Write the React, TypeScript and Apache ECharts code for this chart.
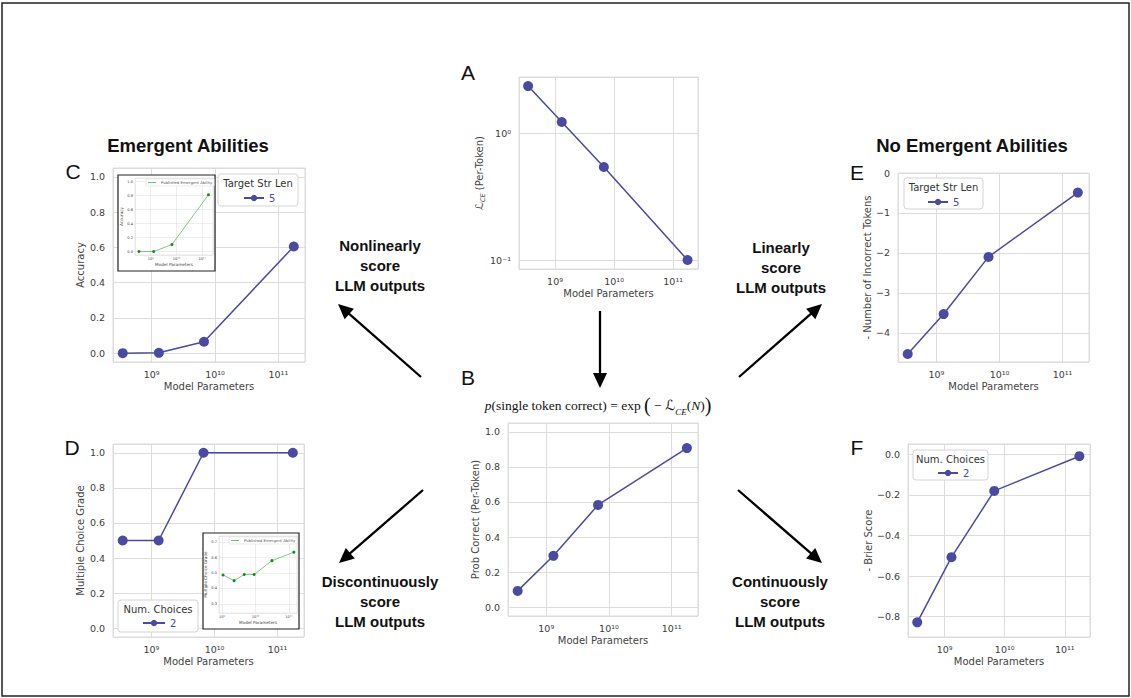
import React, { useEffect, useRef } from 'react';
import * as echarts from 'echarts';

// ---------------- data ----------------
const modelParams = [3.5e8, 1.3e9, 6.7e9, 1.75e11];
const lossPerToken = [2.34, 1.22, 0.54, 0.1];
const probCorrect = [0.093, 0.293, 0.583, 0.907];
const accuracy = [0.0, 0.002, 0.065, 0.605];
const negIncorrectTokens = [-4.53, -3.53, -2.1, -0.49];
const multipleChoiceGrade = [0.5, 0.5, 1.0, 1.0];
const negBrierScore = [-0.828, -0.507, -0.181, -0.01];
const insetAccParams = [3.5e8, 1.3e9, 6.7e9, 1.75e11];
const insetAccuracy = [0.0, 0.0, 0.1, 0.81];
const insetMcParams = [1.07e9, 2.3e9, 4.6e9, 9.1e9, 3.1e10, 1.4e11];
const insetMcGrade = [0.487, 0.45, 0.49, 0.49, 0.58, 0.635];
const targetStrLen = '5';
const numChoices = '2';
const insetSeriesName = 'Published Emergent Ability';

// ---------------- style ----------------
const FONT = "'DejaVu Sans', sans-serif";
const BOLD = "'Liberation Sans', Arial, sans-serif";
const BLUE = '#4a4aa2';
const GRID_C = '#dddddd';
const TICK_C = '#3c3c3c';
const NAME_C = '#444444';
const GREEN_LINE = '#72c472';
const GREEN_DOT = '#138a13';

const SUPS: Record<string, string> = {
  '0': '⁰', '1': '¹', '2': '²', '3': '³', '4': '⁴', '5': '⁵', '6': '⁶', '7': '⁷', '8': '⁸', '9': '⁹', '-': '⁻',
};
function powLabel(v: number): string {
  const e = Math.log10(v);
  const r = Math.round(e);
  if (Math.abs(e - r) > 1e-6) return '';
  return '10' + String(r).split('').map((c) => SUPS[c]).join('');
}
function linLabel(step: number, digits: number) {
  return (v: number) => {
    const k = v / step;
    if (Math.abs(k - Math.round(k)) > 1e-6) return '';
    return (v < -1e-9 ? '−' : '') + Math.abs(v).toFixed(digits);
  };
}
const pairs = (xs: number[], ys: number[]) => xs.map((x, i) => [x, ys[i]]);

interface Spec {
  grid: [number, number, number, number];
  xr: [number, number];
  yr: [number, number];
  yLog?: boolean;
  yFmt: (v: number) => string;
  xName: string;
  yName: string;
  yGap: number;
  small?: boolean;
}

const specs: Spec[] = [
  { grid: [519, 77, 179, 192], xr: [8.39, 11.42], yr: [0.085, 2.76], yLog: true, yFmt: powLabel, xName: 'Model Parameters', yName: '{l|ℒ}{s|CE} (Per-Token)', yGap: 33 },
  { grid: [508, 423, 190, 193], xr: [8.39, 11.42], yr: [-0.05, 1.05], yFmt: linLabel(0.2, 1), xName: 'Model Parameters', yName: 'Prob Correct (Per-Token)', yGap: 25 },
  { grid: [113, 168, 192, 194], xr: [8.39, 11.42], yr: [-0.05, 1.05], yFmt: linLabel(0.2, 1), xName: 'Model Parameters', yName: 'Accuracy', yGap: 25 },
  { grid: [113, 444, 191, 193], xr: [8.39, 11.42], yr: [-0.05, 1.05], yFmt: linLabel(0.2, 1), xName: 'Model Parameters', yName: 'Multiple Choice Grade', yGap: 25 },
  { grid: [898, 173, 191, 189], xr: [8.39, 11.42], yr: [-4.73, 0], yFmt: linLabel(1, 0), xName: 'Model Parameters', yName: '- Number of Incorrect Tokens', yGap: 23 },
  { grid: [908, 444, 182, 193], xr: [8.39, 11.42], yr: [-0.9, 0.05], yFmt: linLabel(0.2, 1), xName: 'Model Parameters', yName: '- Brier Score', yGap: 34 },
  { grid: [135, 178, 78, 77], xr: [8.39, 11.42], yr: [-0.05, 1.05], yFmt: linLabel(0.2, 1), xName: 'Model Parameters', yName: 'Accuracy', yGap: 8, small: true },
  { grid: [219, 536, 78, 77], xr: [8.91, 11.24], yr: [0.24, 0.74], yFmt: linLabel(0.1, 1), xName: 'Model Parameters', yName: 'Multiple Choice Grade', yGap: 8, small: true },
];

function arrow(x1: number, y1: number, x2: number, y2: number) {
  const dx = x2 - x1, dy = y2 - y1;
  const L = Math.hypot(dx, dy);
  const ux = dx / L, uy = dy / L;
  const hl = 15, hw = 7;
  const bx = x2 - ux * hl, by = y2 - uy * hl;
  return {
    type: 'group',
    z: 20,
    children: [
      { type: 'line', z: 20, shape: { x1, y1, x2: bx + ux * 2, y2: by + uy * 2 }, style: { stroke: '#000', lineWidth: 2.3 } },
      { type: 'polygon', z: 20, shape: { points: [[x2, y2], [bx - uy * hw, by + ux * hw], [bx + uy * hw, by - ux * hw]] }, style: { fill: '#000' } },
    ],
  };
}

function txt(x: number, y: number, text: string, size: number, weight: string, family: string, extra: any = {}) {
  return {
    type: 'text', x, y, z: 20,
    style: { text, fontSize: size, fontWeight: weight, fontFamily: family, fill: '#111', textAlign: 'center', textVerticalAlign: 'middle', ...extra },
  };
}

function legendBox(x: number, y: number, w: number, h: number, title: string) {
  return [
    { type: 'rect', z: 5, shape: { x, y, width: w, height: h, r: 3 }, style: { fill: 'rgba(255,255,255,0.9)', stroke: '#d4d4d4', lineWidth: 1 } },
    { type: 'text', x: x + w / 2, y: y + 9, z: 9, style: { text: title, fontSize: 10, fontFamily: FONT, fill: '#333', textAlign: 'center', textVerticalAlign: 'middle' } },
  ];
}

function buildOption() {
  const grid: any[] = [];
  const xAxis: any[] = [];
  const yAxis: any[] = [];
  specs.forEach((s, i) => {
    const sm = !!s.small;
    const z = sm ? 6 : 0;
    grid.push({
      left: s.grid[0], top: s.grid[1], width: s.grid[2], height: s.grid[3],
      show: true, borderColor: GRID_C, borderWidth: sm ? 0.6 : 1,
      backgroundColor: sm ? '#fff' : 'transparent', containLabel: false, z,
    });
    const tickSize = sm ? 3.6 : 9.5;
    const nameSize = sm ? 4.2 : 10;
    xAxis.push({
      type: 'log', logBase: 10, gridIndex: i, z,
      min: Math.pow(10, s.xr[0]), max: Math.pow(10, s.xr[1]),
      axisLine: { show: false }, axisTick: { show: false },
      splitLine: { show: true, lineStyle: { color: GRID_C, width: sm ? 0.5 : 1 } },
      axisLabel: { interval: 0, formatter: powLabel, color: TICK_C, fontSize: tickSize, fontFamily: FONT, margin: sm ? 2 : 7 },
      name: s.xName, nameLocation: 'middle', nameGap: sm ? 7 : 19,
      nameTextStyle: { color: NAME_C, fontSize: nameSize, fontFamily: FONT },
    });
    yAxis.push({
      type: s.yLog ? 'log' : 'value', gridIndex: i, z,
      ...(s.yLog ? { logBase: 10 } : { splitNumber: 5 }),
      min: s.yr[0], max: s.yr[1],
      axisLine: { show: false }, axisTick: { show: false },
      splitLine: { show: true, lineStyle: { color: GRID_C, width: sm ? 0.5 : 1 } },
      axisLabel: { interval: 0, formatter: s.yFmt, color: TICK_C, fontSize: tickSize, fontFamily: FONT, margin: sm ? 2 : 8 },
      name: s.yName, nameLocation: 'middle', nameGap: s.yGap,
      nameTextStyle: {
        color: NAME_C, fontSize: nameSize, fontFamily: FONT,
        rich: {
          l: { fontSize: 11, fontFamily: "'DejaVu Sans', sans-serif", color: NAME_C },
          s: { fontSize: 6.5, fontFamily: FONT, fontStyle: 'italic', color: NAME_C, verticalAlign: 'bottom', lineHeight: 14 },
        },
      },
    });
  });

  const mainLine = (idx: number, name: string, data: number[][]) => ({
    type: 'line', name, xAxisIndex: idx, yAxisIndex: idx, data,
    symbol: 'circle', symbolSize: 10, showSymbol: true,
    lineStyle: { color: BLUE, width: 1.5 }, itemStyle: { color: BLUE }, z: 3,
  });
  const insetLine = (idx: number, data: number[][]) => ({
    type: 'line', name: insetSeriesName, xAxisIndex: idx, yAxisIndex: idx, data,
    symbol: 'circle', symbolSize: 3, showSymbol: true,
    lineStyle: { color: GREEN_LINE, width: 0.9 }, itemStyle: { color: GREEN_DOT }, z: 7,
  });

  const series = [
    mainLine(0, 'Loss', pairs(modelParams, lossPerToken)),
    mainLine(1, 'Prob', pairs(modelParams, probCorrect)),
    mainLine(2, targetStrLen, pairs(modelParams, accuracy)),
    mainLine(3, numChoices, pairs(modelParams, multipleChoiceGrade)),
    mainLine(4, targetStrLen, pairs(modelParams, negIncorrectTokens)),
    mainLine(5, numChoices, pairs(modelParams, negBrierScore)),
    insetLine(6, pairs(insetAccParams, insetAccuracy)),
    insetLine(7, pairs(insetMcParams, insetMcGrade)),
  ];

  const mainLegend = (name: string, left: number, top: number, w: number) => ({
    data: [name], left, top, itemWidth: w, itemHeight: 8, padding: 0, selectedMode: false, z: 9,
    textStyle: { color: BLUE, fontSize: 10, fontFamily: FONT, padding: [0, 0, 0, 0] }, itemGap: 5,
  });
  const insetLegend = (left: number, top: number) => ({
    data: [insetSeriesName], left, top, icon: 'rect', itemWidth: 8, itemHeight: 1, itemGap: 2,
    padding: [1.5, 2], selectedMode: false, z: 9, backgroundColor: '#fff', borderColor: '#d8d8d8', borderWidth: 0.5,
    itemStyle: { color: GREEN_LINE },
    textStyle: { color: '#555', fontSize: 3.8, fontFamily: FONT },
  });

  const legend = [
    mainLegend(targetStrLen, 243, 193, 20),
    mainLegend(targetStrLen, 927, 197, 20),
    mainLegend(numChoices, 142, 618, 22),
    mainLegend(numChoices, 937, 468, 20),
    insetLegend(146, 179),
    insetLegend(229, 537),
  ];

  const graphic: any[] = [
    { type: 'rect', z: 0, shape: { x: 2, y: 3, width: 1127, height: 693 }, style: { fill: 'none', stroke: '#222', lineWidth: 1.5 } },
    // inset frames
    { type: 'rect', z: 5, shape: { x: 118, y: 175, width: 97, height: 96 }, style: { fill: '#fff', stroke: '#222', lineWidth: 1.2 } },
    { type: 'rect', z: 5, shape: { x: 203, y: 533, width: 96, height: 96 }, style: { fill: '#fff', stroke: '#222', lineWidth: 1.2 } },
    ...legendBox(218, 174, 80, 32, 'Target Str Len'),
    ...legendBox(904, 178, 79, 31, 'Target Str Len'),
    ...legendBox(118, 600, 80, 32, 'Num. Choices'),
    ...legendBox(913, 450, 75, 30, 'Num. Choices'),
    // panel letters
    txt(468, 72, 'A', 21, 'normal', BOLD),
    txt(468, 377, 'B', 21, 'normal', BOLD),
    txt(73, 171, 'C', 21, 'normal', BOLD),
    txt(72, 447, 'D', 21, 'normal', BOLD),
    txt(857, 172, 'E', 21, 'normal', BOLD),
    txt(857, 447, 'F', 21, 'normal', BOLD),
    // titles
    txt(188, 145, 'Emergent Abilities', 18.5, 'bold', BOLD),
    txt(972, 145, 'No Emergent Abilities', 18.5, 'bold', BOLD),
    // arrow labels
    txt(380, 265, 'Nonlinearly\nscore\nLLM outputs', 15, 'bold', BOLD, { lineHeight: 20 }),
    txt(781, 267, 'Linearly\nscore\nLLM outputs', 15, 'bold', BOLD, { lineHeight: 20 }),
    txt(380, 601, 'Discontinuously\nscore\nLLM outputs', 15, 'bold', BOLD, { lineHeight: 20 }),
    txt(780, 601, 'Continuously\nscore\nLLM outputs', 15, 'bold', BOLD, { lineHeight: 20 }),
    // arrows
    arrow(421, 377, 338, 304),
    arrow(739, 377, 822, 304),
    arrow(423, 490, 339, 563),
    arrow(738, 490, 822, 563),
    arrow(600, 311, 600, 388),
    // formula
    {
      type: 'text', x: 598, y: 405, z: 20,
      style: {
        text: '{i|p}(single token correct) = exp {b|(} − {l|ℒ}{s|CE}({i|N}){b|)}',
        fontSize: 13.5, fontFamily: "'Liberation Serif', 'DejaVu Serif', serif", fill: '#111',
        textAlign: 'center', textVerticalAlign: 'middle', lineHeight: 22,
        rich: {
          i: { fontStyle: 'italic', fontSize: 13.5, fontFamily: "'Liberation Serif', serif", lineHeight: 22 },
          b: { fontSize: 20, fontFamily: "'Liberation Serif', serif", lineHeight: 22 },
          l: { fontSize: 14, fontFamily: "'DejaVu Sans', serif", lineHeight: 22 },
          s: { fontStyle: 'italic', fontSize: 9, fontFamily: "'Liberation Serif', serif", verticalAlign: 'bottom', lineHeight: 22 },
        },
      },
    },
  ];

  return {
    animation: false,
    backgroundColor: '#ffffff',
    grid, xAxis, yAxis, series, legend, graphic,
  };
}

export default function App() {
  const ref = useRef<HTMLDivElement>(null);
  useEffect(() => {
    document.body.style.margin = '0';
    if (!ref.current) return;
    const chart = echarts.init(ref.current, null, { renderer: 'svg' });
    chart.setOption(buildOption() as any);
    return () => chart.dispose();
  }, []);
  return <div ref={ref} style={{ position: 'fixed', left: 0, top: 0, width: 1131, height: 698, background: '#fff' }} />;
}
